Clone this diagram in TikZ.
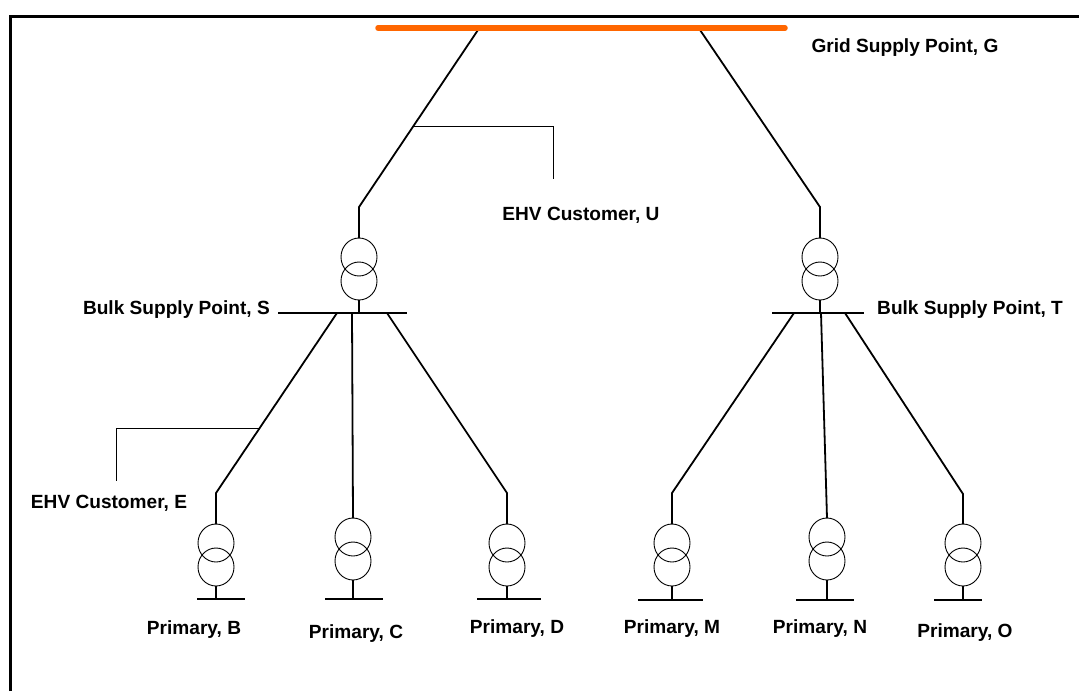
\documentclass[tikz,border=0pt]{standalone}
\usepackage{fontspec}
\setmainfont{Liberation Sans}
\definecolor{gridorange}{RGB}{255,102,0}
\begin{document}
\begin{tikzpicture}[x=1pt,y=-1pt,
  lbl/.style={inner sep=0pt, font=\fontsize{19.1}{21}\selectfont\bfseries},
  feeder/.style={line width=1.8pt, line join=miter},
  tapline/.style={line width=1pt},
  busbar/.style={line width=2.3pt},
  coil/.style={line width=0.9pt},
  gridbar/.style={line width=5.5pt, gridorange, line cap=round},
  framestyle/.style={line width=3pt, line join=miter},
  xfmr/.pic={
    \draw[coil] (0,19) ellipse [x radius=18pt, y radius=19pt];
    \draw[coil] (0,43) ellipse [x radius=18pt, y radius=19pt];
    \coordinate (-top) at (0,0);
    \coordinate (-bot) at (0,62);
  }
]
\useasboundingbox (0,0) rectangle (1079,691);
\fill[white] (0,0) rectangle (1079,691);
% frame
\draw[framestyle] (10,691) -- (10,16) -- (1079,16);

% grid supply point
\coordinate (gL) at (378,28);
\coordinate (gR) at (785,28);
\coordinate (g1) at (480,27);
\coordinate (g2) at (698,27);

% Bulk supply point S
\coordinate (sBend) at (359,207);
\pic (tS) at (359,238) {xfmr};
\coordinate (sBus) at (359,313);
\coordinate (sBusL) at (278,313);
\coordinate (sBusR) at (407,313);
\draw[feeder] (g1) -- (sBend) -- (tS-top);
\draw[feeder] (tS-bot) -- (sBus);
\draw[busbar] (sBusL) -- (sBusR);

% Bulk supply point T
\coordinate (tBend) at (820,207);
\pic (tT) at (820,238) {xfmr};
\coordinate (tBus) at (820,313);
\coordinate (tBusL) at (772,313);
\coordinate (tBusR) at (864,313);
\draw[feeder] (g2) -- (tBend) -- (tT-top);
\draw[feeder] (tT-bot) -- (tBus);
\draw[busbar] (tBusL) -- (tBusR);

\draw[gridbar] (gL) -- (gR);

% EHV customer U tap
\coordinate (uA) at (414,126);
\coordinate (uB) at (553,126);
\coordinate (uC) at (553,179);
\draw[tapline] (uA) -- (uB) -- (uC);

% Primary B
\coordinate (bS) at (337,313);
\coordinate (bBend) at (216,493);
\pic (tB) at (216,524) {xfmr};
\coordinate (bBus) at (216,599);
\draw[feeder] (bS) -- (bBend) -- (tB-top);
\draw[feeder] (tB-bot) -- (bBus);
\draw[busbar] (197,599) -- (245,599);

% EHV customer E tap
\coordinate (eA) at (260,428);
\coordinate (eB) at (116,428);
\coordinate (eC) at (116,481);
\draw[tapline] (eA) -- (eB) -- (eC);

% Primary C
\coordinate (cS) at (352,313);
\pic (tC) at (353,518) {xfmr};
\coordinate (cBus) at (353,599);
\draw[feeder] (cS) -- (tC-top);
\draw[feeder] (tC-bot) -- (cBus);
\draw[busbar] (325,599) -- (383,599);

% Primary D
\coordinate (dS) at (387,313);
\coordinate (dBend) at (507,493);
\pic (tD) at (507,524) {xfmr};
\coordinate (dBus) at (507,599);
\draw[feeder] (dS) -- (dBend) -- (tD-top);
\draw[feeder] (tD-bot) -- (dBus);
\draw[busbar] (477,599) -- (541,599);

% Primary M
\coordinate (mS) at (794,313);
\coordinate (mBend) at (672,493);
\pic (tM) at (672,524) {xfmr};
\coordinate (mBus) at (672,600);
\draw[feeder] (mS) -- (mBend) -- (tM-top);
\draw[feeder] (tM-bot) -- (mBus);
\draw[busbar] (638,600) -- (703,600);

% Primary N
\coordinate (nS) at (821,313);
\pic (tN) at (827,518) {xfmr};
\coordinate (nBus) at (827,600);
\draw[feeder] (nS) -- (tN-top);
\draw[feeder] (tN-bot) -- (nBus);
\draw[busbar] (796,600) -- (854,600);

% Primary O
\coordinate (oS) at (845,313);
\coordinate (oBend) at (963,494);
\pic (tO) at (963,524) {xfmr};
\coordinate (oBus) at (963,600);
\draw[feeder] (oS) -- (oBend) -- (tO-top);
\draw[feeder] (tO-bot) -- (oBus);
\draw[busbar] (934,600) -- (982,600);

% labels
\node[lbl] (lG) at (905,48) {Grid Supply Point, G};
\node[lbl] (lU) at (581,215) {EHV Customer, U};
\node[lbl, anchor=east] (lS) at (270,310) {Bulk Supply Point, S};
\node[lbl, anchor=west] (lT) at (877,310) {Bulk Supply Point, T};
\node[lbl] (lE) at (109,503) {EHV Customer, E};
\node[lbl] (lB) at (194,630) {Primary, B};
\node[lbl] (lC) at (356,634) {Primary, C};
\node[lbl] (lD) at (517,629) {Primary, D};
\node[lbl] (lM) at (672,629) {Primary, M};
\node[lbl] (lN) at (820,629) {Primary, N};
\node[lbl] (lO) at (965,633) {Primary, O};
\end{tikzpicture}
\end{document}
